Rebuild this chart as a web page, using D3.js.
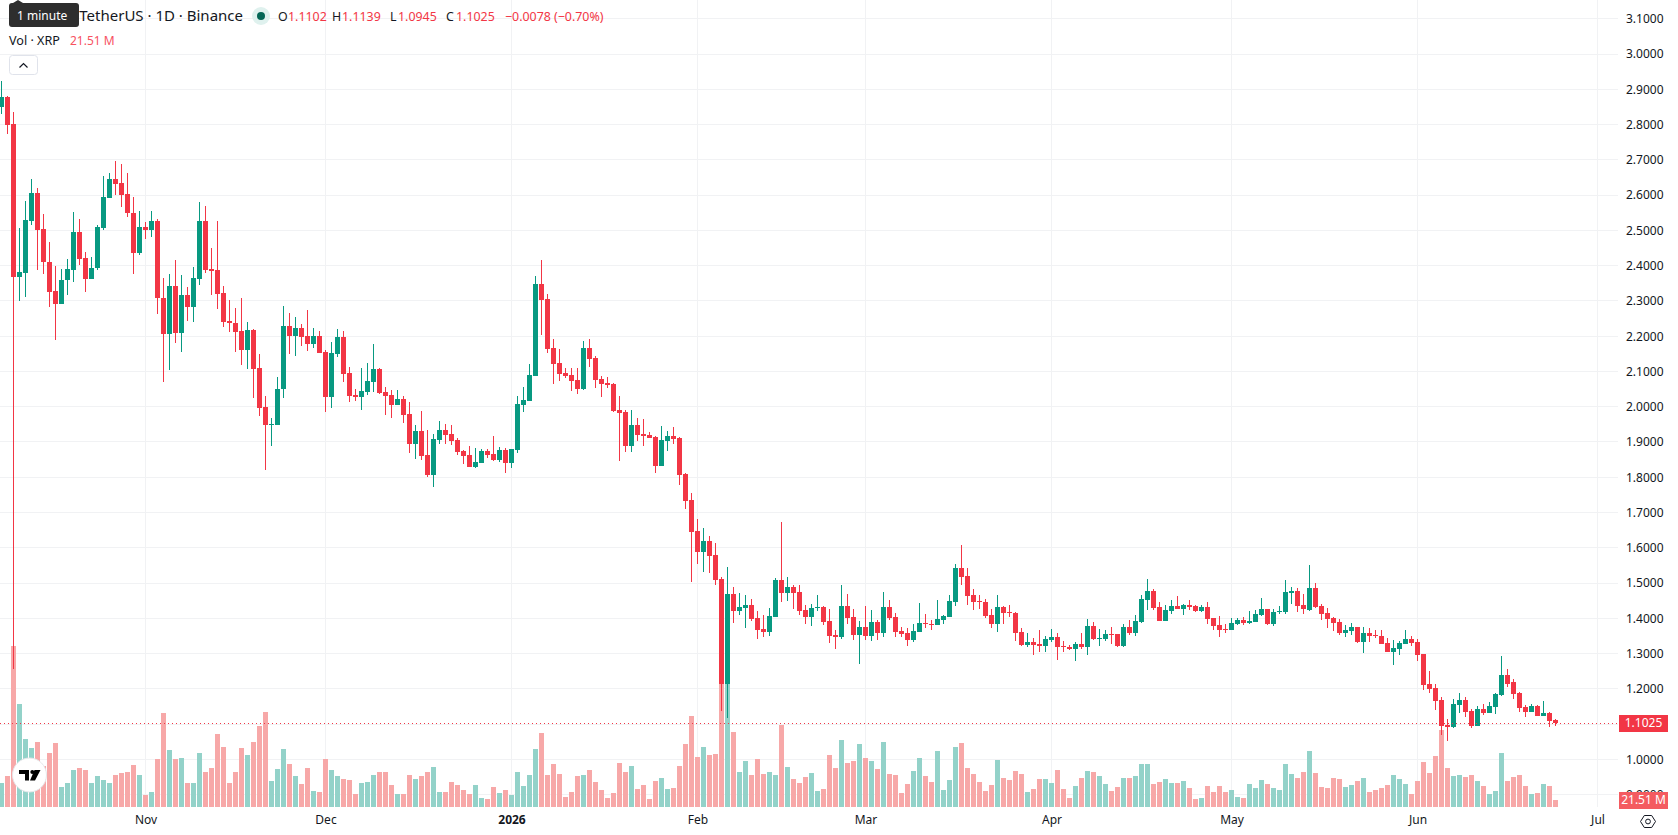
<!DOCTYPE html>
<html>
<head>
<meta charset="utf-8">
<script src="https://cdn.jsdelivr.net/npm/d3@7"></script>
<style>
  html, body { margin: 0; padding: 0; background: #fff; overflow: hidden; }
  svg { display: block; font-family: "Noto Sans", sans-serif; }
</style>
</head>
<body>
<svg id="chart" width="1678" height="835"></svg>
<script>
// Daily XRP/USDT candles starting 8 Oct 2025
const firstDay = Date.UTC(2025, 9, 8);

const opens = [
  2.851,2.877,2.801,2.369,2.380,2.528,2.606,2.504,2.411,2.328,
  2.292,2.358,2.389,2.496,2.422,2.363,2.394,2.508,2.593,2.646,
  2.634,2.603,2.549,2.437,2.510,2.502,2.527,2.309,2.205,2.343,
  2.210,2.317,2.284,2.363,2.527,2.391,2.388,2.323,2.243,2.238,
  2.215,2.162,2.218,2.110,1.999,1.948,1.949,2.049,2.229,2.201,
  2.223,2.201,2.178,2.201,2.155,2.028,2.150,2.198,2.096,2.033,
  2.028,2.042,2.070,2.107,2.042,2.033,2.005,2.022,1.980,1.894,
  1.931,1.863,1.807,1.906,1.934,1.923,1.906,1.875,1.863,1.829,
  1.841,1.875,1.866,1.849,1.877,1.841,1.877,2.005,2.016,2.087,
  2.348,2.305,2.167,2.124,2.096,2.090,2.076,2.050,2.167,2.138,
  2.079,2.067,2.065,1.991,1.985,1.889,1.948,1.923,1.920,1.914,
  1.832,1.903,1.917,1.911,1.809,1.736,1.648,1.588,1.619,1.580,
  1.512,1.214,1.469,1.421,1.429,1.438,1.401,1.370,1.361,1.404,
  1.509,1.472,1.489,1.475,1.424,1.404,1.429,1.432,1.392,1.353,
  1.347,1.435,1.404,1.353,1.375,1.350,1.390,1.358,1.432,1.404,
  1.364,1.358,1.339,1.361,1.387,1.384,1.381,1.395,1.404,1.446,
  1.543,1.520,1.466,1.449,1.446,1.409,1.384,1.432,1.418,1.415,
  1.361,1.324,1.333,1.327,1.321,1.338,1.347,1.321,1.319,1.313,
  1.327,1.319,1.378,1.341,1.341,1.355,1.355,1.321,1.375,1.358,
  1.390,1.452,1.477,1.432,1.392,1.421,1.435,1.426,1.438,1.435,
  1.421,1.432,1.401,1.381,1.370,1.367,1.384,1.395,1.387,1.390,
  1.409,1.426,1.384,1.418,1.418,1.472,1.477,1.438,1.423,1.486,
  1.435,1.415,1.401,1.390,1.358,1.364,1.375,1.333,1.358,1.353,
  1.350,1.330,1.304,1.313,1.327,1.341,1.333,1.299,1.214,1.202,
  1.168,1.098,1.092,1.154,1.168,1.137,1.095,1.143,1.131,1.148,
  1.182,1.239,1.219,1.188,1.148,1.134,1.151,1.123,1.131,1.1102
];

const highs = [
  2.924,2.881,2.835,2.507,2.583,2.646,2.620,2.547,2.467,2.399,
  2.391,2.419,2.552,2.532,2.439,2.425,2.516,2.654,2.663,2.697,
  2.688,2.663,2.595,2.555,2.524,2.555,2.532,2.365,2.377,2.416,
  2.374,2.340,2.396,2.581,2.569,2.450,2.527,2.343,2.303,2.280,
  2.309,2.240,2.220,2.149,2.030,1.968,2.084,2.286,2.266,2.255,
  2.235,2.274,2.223,2.215,2.161,2.184,2.221,2.215,2.113,2.050,
  2.110,2.124,2.178,2.110,2.056,2.048,2.048,2.031,2.014,1.948,
  1.988,1.934,1.923,1.960,1.951,1.948,1.911,1.877,1.889,1.883,
  1.880,1.880,1.917,1.886,1.883,1.880,2.031,2.056,2.121,2.371,
  2.416,2.320,2.192,2.164,2.110,2.110,2.110,2.186,2.192,2.144,
  2.087,2.084,2.067,2.031,1.991,1.991,1.968,1.965,1.929,1.917,
  1.945,1.931,1.943,1.914,1.812,1.755,1.682,1.656,1.633,1.614,
  1.517,1.546,1.489,1.472,1.466,1.455,1.421,1.409,1.429,1.514,
  1.673,1.517,1.495,1.495,1.438,1.441,1.466,1.435,1.426,1.367,
  1.495,1.469,1.426,1.392,1.435,1.424,1.395,1.475,1.452,1.415,
  1.375,1.373,1.384,1.443,1.412,1.395,1.452,1.409,1.466,1.554,
  1.608,1.543,1.483,1.466,1.455,1.426,1.466,1.435,1.438,1.418,
  1.372,1.358,1.344,1.367,1.350,1.370,1.358,1.336,1.324,1.333,
  1.358,1.398,1.389,1.370,1.367,1.375,1.355,1.384,1.395,1.409,
  1.466,1.511,1.483,1.446,1.438,1.452,1.463,1.441,1.452,1.438,
  1.438,1.446,1.401,1.406,1.384,1.401,1.401,1.404,1.421,1.423,
  1.458,1.426,1.426,1.435,1.509,1.489,1.486,1.469,1.551,1.500,
  1.441,1.429,1.404,1.398,1.381,1.387,1.375,1.375,1.373,1.367,
  1.367,1.344,1.338,1.336,1.367,1.350,1.341,1.299,1.251,1.214,
  1.177,1.115,1.171,1.188,1.177,1.143,1.151,1.157,1.163,1.188,
  1.293,1.256,1.228,1.191,1.154,1.157,1.154,1.165,1.134,1.1139
];

const lows = [
  2.831,2.772,1.257,2.301,2.312,2.514,2.389,2.377,2.284,2.190,
  2.290,2.318,2.355,2.403,2.326,2.363,2.389,2.502,2.593,2.601,
  2.567,2.539,2.377,2.431,2.477,2.480,2.264,2.070,2.103,2.182,
  2.154,2.244,2.241,2.346,2.380,2.318,2.278,2.227,2.213,2.156,
  2.117,2.108,2.025,1.974,1.820,1.889,1.949,2.025,2.150,2.144,
  2.172,2.158,2.167,2.152,1.985,1.997,2.141,2.070,2.014,2.016,
  1.991,2.033,2.042,2.036,1.977,1.968,2.005,1.954,1.869,1.852,
  1.849,1.801,1.773,1.894,1.894,1.892,1.863,1.838,1.829,1.826,
  1.841,1.855,1.846,1.843,1.812,1.826,1.869,1.985,2.016,2.087,
  2.204,2.152,2.065,2.073,2.082,2.044,2.036,2.048,2.113,2.053,
  2.028,2.053,1.985,1.846,1.872,1.872,1.903,1.889,1.911,1.812,
  1.832,1.875,1.894,1.778,1.710,1.503,1.554,1.531,1.529,1.495,
  1.137,1.118,1.387,1.409,1.373,1.392,1.341,1.347,1.350,1.404,
  1.446,1.449,1.426,1.409,1.384,1.378,1.421,1.381,1.330,1.313,
  1.341,1.384,1.339,1.271,1.339,1.336,1.339,1.347,1.395,1.347,
  1.347,1.322,1.333,1.361,1.373,1.367,1.381,1.384,1.404,1.435,
  1.494,1.438,1.423,1.426,1.401,1.372,1.361,1.384,1.404,1.336,
  1.321,1.319,1.296,1.304,1.304,1.333,1.282,1.304,1.310,1.279,
  1.313,1.296,1.338,1.321,1.336,1.327,1.319,1.319,1.353,1.350,
  1.387,1.423,1.423,1.392,1.392,1.412,1.426,1.409,1.423,1.418,
  1.418,1.384,1.367,1.347,1.358,1.367,1.381,1.381,1.384,1.390,
  1.406,1.381,1.378,1.412,1.412,1.441,1.418,1.412,1.421,1.429,
  1.395,1.372,1.364,1.353,1.347,1.353,1.330,1.302,1.333,1.344,
  1.327,1.304,1.268,1.296,1.327,1.321,1.279,1.197,1.188,1.140,
  1.069,1.052,1.089,1.131,1.120,1.089,1.095,1.126,1.131,1.129,
  1.180,1.205,1.171,1.134,1.120,1.134,1.123,1.123,1.092,1.0945
];

const closes = [
  2.877,2.800,2.369,2.382,2.530,2.606,2.502,2.409,2.326,2.292,
  2.359,2.391,2.496,2.420,2.363,2.394,2.510,2.595,2.646,2.633,
  2.601,2.548,2.437,2.510,2.502,2.527,2.307,2.205,2.343,2.210,
  2.317,2.284,2.365,2.527,2.389,2.386,2.321,2.241,2.236,2.213,
  2.162,2.218,2.108,1.997,1.949,1.951,2.050,2.229,2.201,2.223,
  2.198,2.178,2.201,2.152,2.028,2.152,2.198,2.093,2.031,2.028,
  2.045,2.073,2.107,2.039,2.031,2.005,2.022,1.977,1.894,1.931,
  1.860,1.807,1.909,1.934,1.920,1.903,1.872,1.860,1.829,1.843,
  1.875,1.863,1.849,1.877,1.841,1.880,2.008,2.019,2.090,2.348,
  2.303,2.164,2.121,2.093,2.087,2.073,2.050,2.167,2.135,2.076,
  2.065,2.062,1.988,1.982,1.889,1.948,1.920,1.917,1.911,1.832,
  1.906,1.917,1.909,1.807,1.733,1.645,1.588,1.619,1.577,1.509,
  1.214,1.469,1.421,1.432,1.438,1.398,1.367,1.361,1.407,1.509,
  1.472,1.489,1.472,1.421,1.404,1.429,1.432,1.390,1.350,1.347,
  1.435,1.401,1.353,1.375,1.350,1.390,1.358,1.432,1.401,1.361,
  1.356,1.339,1.364,1.387,1.384,1.381,1.398,1.406,1.449,1.543,
  1.517,1.463,1.446,1.446,1.406,1.384,1.432,1.415,1.415,1.358,
  1.324,1.333,1.324,1.321,1.341,1.347,1.319,1.319,1.313,1.327,
  1.319,1.378,1.341,1.344,1.355,1.353,1.321,1.375,1.358,1.392,
  1.455,1.477,1.429,1.392,1.423,1.435,1.426,1.438,1.432,1.421,
  1.432,1.398,1.378,1.367,1.367,1.387,1.395,1.387,1.392,1.412,
  1.426,1.384,1.418,1.421,1.475,1.477,1.435,1.426,1.486,1.432,
  1.412,1.398,1.387,1.358,1.367,1.375,1.333,1.358,1.350,1.350,
  1.327,1.304,1.316,1.330,1.341,1.330,1.296,1.211,1.200,1.166,
  1.095,1.092,1.157,1.168,1.134,1.095,1.143,1.131,1.151,1.185,
  1.239,1.214,1.185,1.146,1.134,1.151,1.123,1.131,1.109,1.1025
];

// Traded volume, millions of XRP
const volumes = [
  76,99,518,331,218,189,209,131,173,205,
  63,76,118,125,118,76,99,86,76,102,
  109,112,134,102,38,47,154,302,183,154,
  157,76,76,173,112,125,234,192,76,112,
  189,167,209,260,305,83,121,186,138,99,
  73,125,51,47,154,118,99,89,86,41,
  76,80,102,112,112,70,41,41,102,89,
  99,112,128,47,47,80,70,54,41,70,
  28,25,63,44,54,38,112,67,102,186,
  238,102,138,105,31,47,99,102,118,80,
  54,28,44,141,112,131,57,70,25,83,
  92,57,60,131,202,292,160,192,167,170,
  505,484,241,112,147,102,154,105,112,102,
  263,128,89,76,96,109,51,57,167,125,
  215,142,148,203,158,148,123,210,106,103,
  45,74,116,158,100,81,181,55,87,194,
  206,126,106,81,52,71,152,94,87,116,
  106,48,58,90,90,77,119,58,29,68,
  94,116,113,100,74,52,65,94,94,100,
  139,139,74,81,90,77,77,84,61,26,
  29,68,48,68,48,55,32,29,74,61,
  87,74,61,55,139,106,94,113,181,110,
  65,61,94,90,65,71,84,94,48,55,
  61,71,103,90,73,41,83,144,109,163,
  247,125,99,102,96,102,83,67,41,51,
  173,83,96,102,67,41,44,73,67,21.51
];

const priceTicks = [3.1,3.0,2.9,2.8,2.7,2.6,2.5,2.4,2.3,2.2,2.1,2.0,1.9,1.8,1.7,1.6,1.5,1.4,1.3,1.2,1.1,1.0,0.9];
const monthTicks = [[2025,10],[2025,11],[2026,0],[2026,1],[2026,2],[2026,3],[2026,4],[2026,5],[2026,6]];
const monthLabels = ["Nov","Dec","2026","Feb","Mar","Apr","May","Jun","Jul"];

const lastPrice = closes[closes.length - 1];
const lastVolume = volumes[volumes.length - 1];

const UP = "#089981", DOWN = "#f23645";
const UP_VOL = "#93d2c9", DOWN_VOL = "#f7a8a8";
const GRID = "#f1f2f4", INK = "#131722";
const PANE_RIGHT = 1618, PANE_BOTTOM = 807;
const DAY = 86400000;

const x = d3.scaleUtc()
  .domain([new Date(firstDay), new Date(Date.UTC(2026, 6, 1))])
  .range([1.5, 1597.5]);
const y = d3.scaleLinear().domain([3.1, 0.9]).range([18.84, 794.56]);
const vy = d3.scaleLinear().domain([0, d3.max(volumes)]).range([806.7, 646]);

const candles = opens.map((o, i) => ({
  date: new Date(firstDay + i * DAY),
  o, h: highs[i], l: lows[i], c: closes[i], v: volumes[i]
}));
const monthDates = monthTicks.map(([yr, m]) => new Date(Date.UTC(yr, m, 1)));

const svg = d3.select("#chart").attr("shape-rendering", "crispEdges");

// Grid lines sit under everything else
const grid = svg.append("g");
grid.selectAll(".h").data(priceTicks).join("rect")
  .attr("x", 0).attr("width", PANE_RIGHT)
  .attr("y", d => Math.floor(y(d))).attr("height", 1).attr("fill", GRID);
grid.selectAll(".v").data(monthDates).join("rect")
  .attr("x", d => Math.floor(x(d))).attr("width", 1)
  .attr("y", 0).attr("height", PANE_BOTTOM).attr("fill", GRID);

// Volume histogram
svg.append("g").selectAll("rect").data(candles).join("rect")
  .attr("x", d => x(d.date) - 2.5).attr("width", 5)
  .attr("y", d => Math.round(vy(d.v)))
  .attr("height", d => Math.round(vy(0)) - Math.round(vy(d.v)))
  .attr("fill", d => d.c >= d.o ? UP_VOL : DOWN_VOL);

// Candles: one-pixel wick with a five-pixel body on top
const candleG = svg.append("g").selectAll("g").data(candles).join("g")
  .attr("fill", d => d.c >= d.o ? UP : DOWN);
candleG.append("rect")
  .attr("x", d => x(d.date) - 0.5).attr("width", 1)
  .attr("y", d => Math.round(y(d.h)))
  .attr("height", d => Math.max(1, Math.round(y(d.l)) - Math.round(y(d.h))));
candleG.append("rect")
  .attr("x", d => x(d.date) - 2.5).attr("width", 5)
  .attr("y", d => Math.round(y(Math.max(d.o, d.c))))
  .attr("height", d => Math.max(1, Math.round(y(Math.min(d.o, d.c))) - Math.round(y(Math.max(d.o, d.c)))));

// Last-price line
svg.append("line")
  .attr("x1", 0).attr("x2", PANE_RIGHT)
  .attr("y1", Math.floor(y(lastPrice)) + 0.5).attr("y2", Math.floor(y(lastPrice)) + 0.5)
  .attr("stroke", DOWN).attr("stroke-dasharray", "1 3");

// Price axis
const priceAxis = svg.append("g")
  .attr("transform", `translate(${PANE_RIGHT},0)`)
  .attr("shape-rendering", "auto")
  .call(d3.axisRight(y).tickValues(priceTicks).tickFormat(d3.format(".4f")).tickSize(0).tickPadding(8));
priceAxis.select(".domain").remove();
priceAxis.selectAll("text").attr("font-family", '"Noto Sans", sans-serif').attr("font-size", 12).attr("fill", INK);

// Time axis
const timeAxis = svg.append("g")
  .attr("transform", `translate(0,${PANE_BOTTOM})`)
  .attr("shape-rendering", "auto")
  .call(d3.axisBottom(x).tickValues(monthDates).tickFormat((d, i) => monthLabels[i]).tickSize(0).tickPadding(8));
timeAxis.select(".domain").remove();
timeAxis.selectAll("text")
  .attr("font-family", '"Noto Sans", sans-serif').attr("font-size", 12).attr("fill", INK)
  .attr("font-weight", (d, i) => monthLabels[i] === "2026" ? 700 : 400);

// Value tags on the right edge
const tags = svg.append("g");
function tag(cy, fill, label) {
  tags.append("rect").attr("x", 1619).attr("y", Math.round(cy) - 8.5 + 0.5).attr("width", 49).attr("height", 17).attr("rx", 1).attr("fill", fill);
  tags.append("text").attr("x", 1643.5).attr("y", cy + 4.2).attr("text-anchor", "middle")
    .attr("font-size", 12).attr("fill", "#fff").attr("shape-rendering", "auto").text(label);
}
tag(y(lastPrice), DOWN, d3.format(".4f")(lastPrice));
tag(vy(lastVolume), "#f45b60", lastVolume.toFixed(2) + " M");

// Settings glyph in the axis corner
const gear = svg.append("g").attr("transform", "translate(1648,821.5)")
  .attr("fill", "none").attr("stroke", INK).attr("shape-rendering", "auto");
gear.append("path").attr("d", "M-7.5 0 L-3.7 -6 H3.7 L7.5 0 L3.7 6 H-3.7 Z");
gear.append("circle").attr("r", 2.4);

// Legend
const legend = svg.append("g").attr("shape-rendering", "auto");
const legendText = (px, py, size, fill, str, anchor = "start") => legend.append("text")
  .attr("x", px).attr("y", py).attr("font-size", size).attr("fill", fill).attr("text-anchor", anchor).text(str);
legendText(243, 21, 15, INK, "XRP / TetherUS · 1D · Binance", "end");
legend.append("circle").attr("cx", 261).attr("cy", 16).attr("r", 9).attr("fill", "#dff1ee");
legend.append("circle").attr("cx", 261).attr("cy", 16).attr("r", 4).attr("fill", "#056656");

[["O", opens, 278], ["H", highs, 332], ["L", lows, 390], ["C", closes, 446]].forEach(([k, arr, px]) => {
  legendText(px, 20.5, 12.4, INK, k);
  legendText(px + (k === "L" ? 8 : 10), 20.5, 12.4, DOWN, arr[arr.length - 1].toFixed(4));
});
legendText(505, 20.5, 12.4, DOWN, "−0.0078 (−0.70%)");

legendText(9, 44.5, 12.6, INK, "Vol · XRP");
legendText(70, 44.5, 12, "#f7525f", lastVolume.toFixed(2) + " M");

legend.append("rect").attr("x", 9.5).attr("y", 55.5).attr("width", 28).attr("height", 19).attr("rx", 3)
  .attr("fill", "#fff").attr("stroke", "#e0e3eb");
legend.append("path").attr("d", "M19.5 67.5 L23.5 63.5 L27.5 67.5").attr("fill", "none").attr("stroke", INK).attr("stroke-width", 1.2);

// Hover tooltip over the legend
legend.append("path").attr("d", "M13 3 L18 0 L23 3 Z").attr("fill", "#2e2e2e");
legend.append("rect").attr("x", 9).attr("y", 3).attr("width", 70).attr("height", 24).attr("rx", 3).attr("fill", "#2e2e2e");
legendText(17, 19.5, 12, "#fff", "1 minute");

// Round logo badge over the volume bars
const badge = svg.append("g").attr("transform", "translate(29.5,775)").attr("shape-rendering", "auto");
badge.append("circle").attr("r", 17).attr("fill", "#fff").attr("stroke", "#e6e7ea");
badge.append("path").attr("fill", "#000").attr("d",
  "M-10.5 -5 H-0.5 V5.5 H-4.5 V-1 H-10.5 Z M5 -5 H11 L5.5 5.5 H0.5 Z");
badge.append("circle").attr("cx", 2.8).attr("cy", -3).attr("r", 2).attr("fill", "#000");
</script>
</body>
</html>
